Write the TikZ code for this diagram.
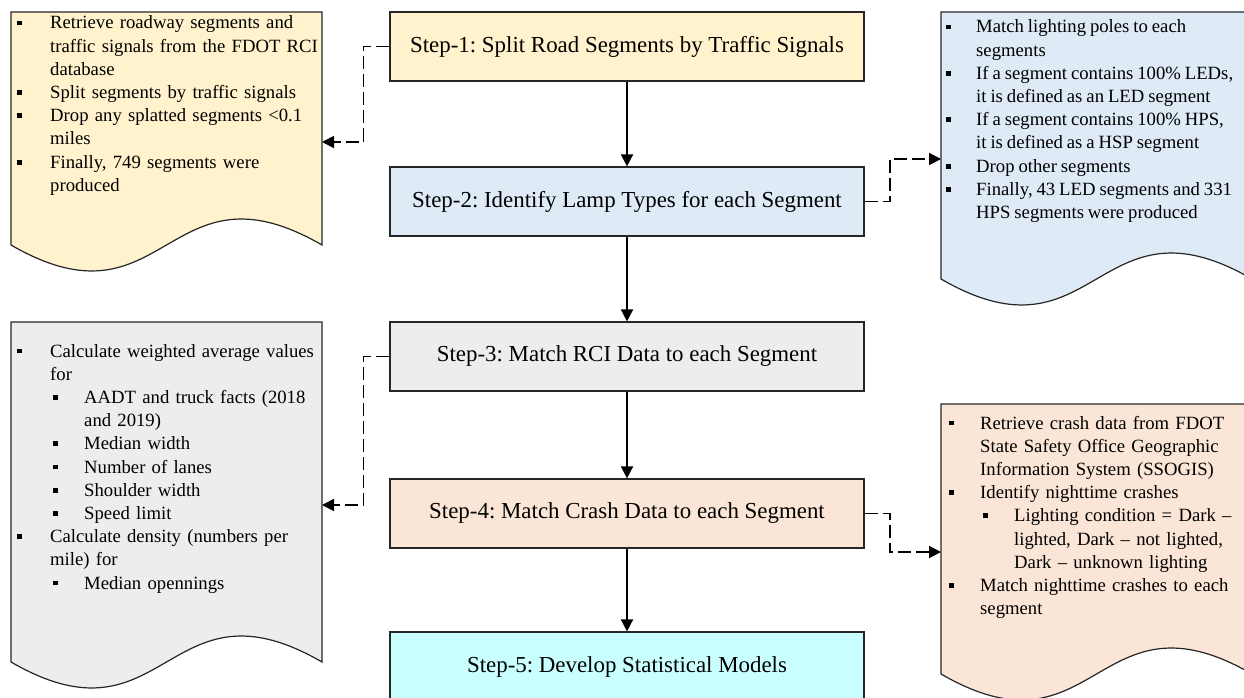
\documentclass[tikz,border=0pt]{standalone}
\usepackage{fontspec}
\setmainfont{Liberation Serif}
\usetikzlibrary{arrows.meta}
\definecolor{cY}{HTML}{FFF2CC}
\definecolor{cB}{HTML}{DEEBF7}
\definecolor{cG}{HTML}{EDEDED}
\definecolor{cO}{HTML}{FBE5D6}
\definecolor{cC}{HTML}{C9FFFF}
\newcommand\sqb{\rule[3.6pt]{4.8pt}{4.8pt}}
% first item (paragraph already started by TikZ)
\newcommand\itF[1]{\hangindent=#1pt\hangafter=1\makebox[#1pt][l]{\sqb}\ignorespaces}
\newcommand\itA[1]{\par\noindent\hangindent=#1pt\hangafter=1\makebox[#1pt][l]{\sqb}\ignorespaces}
\newcommand\itB[2]{\par\noindent\hangindent=#2pt\hangafter=1\hspace*{#1pt}\makebox[\dimexpr#2pt-#1pt\relax][l]{\sqb}\ignorespaces}
\newcommand\tightsp{\spaceskip=0.21em plus 0.1em\relax}
\newcommand\docshape[5]{%
  \draw[docline, fill=#5] (#1,#2) -- (#1+#3,#2) -- (#1+#3,#4)
    .. controls (#1+#3/2,#4-90) and (#1+#3/2,#4+90) .. (#1,#4) -- cycle;}
\tikzset{
  stepbox/.style={draw=black!85, line width=1.2pt, minimum width=474pt, minimum height=69pt, inner sep=0pt, font=\fontsize{22.9}{27}\selectfont\frenchspacing},
  docline/.style={draw=black!85, line width=1.2pt},
  doctext/.style={anchor=base west, inner sep=0pt, text width=400pt, font=\fontsize{18.7}{23.2}\selectfont\frenchspacing},
  conn/.style={line width=1.7pt, -{Triangle[length=12pt,width=12pt]}},
  dconn/.style={conn, line width=1.8pt, dash pattern=on 13pt off 5pt},
}
\begin{document}
\begin{tikzpicture}[x=1pt,y=-1pt]
\useasboundingbox (0,0) rectangle (1244,698);
\clip (0,0) rectangle (1244,698);
% document shapes
\docshape{11}{12}{311}{245}{cY}
\docshape{941}{12}{311}{279}{cB}
\docshape{11}{322}{311}{662}{cG}
\docshape{941}{404}{311}{674}{cO}
% step boxes
\node[stepbox, fill=cY] (s1) at (627,46.5) {Step-1: Split Road Segments by Traffic Signals};
\node[stepbox, fill=cB] (s2) at (627,201.5) {Step-2: Identify Lamp Types for each Segment};
\node[stepbox, fill=cG] (s3) at (627,356.5) {Step-3: Match RCI Data to each Segment};
\node[stepbox, fill=cO] (s4) at (627,513.5) {Step-4: Match Crash Data to each Segment};
\node[stepbox, fill=cC] (s5) at (627,666.5) {Step-5: Develop Statistical Models};
% document texts
\node[doctext] (d1) at (17,29) {\itF{33}Retrieve roadway segments and\newline traffic signals from the FDOT RCI\newline database
 \itA{33}Split segments by traffic signals
 \itA{33}Drop any splatted segments <0.1\newline miles
 \itA{33}Finally, 749 segments were\newline produced\par};
\node[doctext] (d2) at (946,33) {\tightsp\itF{30}Match lighting poles to each\newline segments
 \itA{30}If a segment contains 100\% LEDs,\newline it is defined as an LED segment
 \itA{30}If a segment contains 100\% HPS,\newline it is defined as a HSP segment
 \itA{30}Drop other segments
 \itA{30}Finally, 43 LED segments and 331\newline HPS segments were produced\par};
\node[doctext] (d3) at (17,357) {\itF{33}Calculate weighted average values\newline for
 \itB{36}{67}AADT and truck facts (2018\newline and 2019)
 \itB{36}{67}Median width
 \itB{36}{67}Number of lanes
 \itB{36}{67}Shoulder width
 \itB{36}{67}Speed limit
 \itA{33}Calculate density (numbers per\newline mile) for
 \itB{36}{67}Median opennings\par};
\node[doctext] (d4) at (949,429) {\itF{31}Retrieve crash data from FDOT\newline State Safety Office Geographic\newline Information System (SSOGIS)
 \itA{31}Identify nighttime crashes
 \itB{34}{65}Lighting condition = Dark –\newline lighted, Dark – not lighted,\newline Dark – unknown lighting
 \itA{31}Match nighttime crashes to each\newline segment\par};
% connector ends
\coordinate (d1in) at (322,142);
\coordinate (d2in) at (941,159);
\coordinate (d3in) at (322,505);
\coordinate (d4in) at (941,552);
% connectors
\draw[conn] (s1.south) -- (s2.north);
\draw[conn] (s2.south) -- (s3.north);
\draw[conn] (s3.south) -- (s4.north);
\draw[conn] (s4.south) -- (s5.north);
\draw[dconn] (s1.west) -- ++(-26,0) |- (d1in);
\draw[dconn] (s2.east) -- ++(25,0) |- (d2in);
\draw[dconn] (s3.west) -- ++(-26,0) |- (d3in);
\draw[dconn] (s4.east) -- ++(25,0) |- (d4in);
\end{tikzpicture}
\end{document}
